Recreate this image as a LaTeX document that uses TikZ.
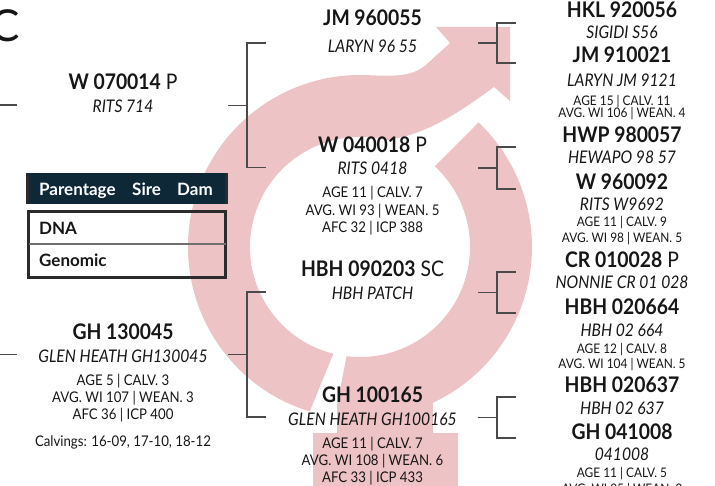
\documentclass[tikz,border=0pt]{standalone}
\usepackage{fontspec}
\setmainfont{Lato}
\newfontfamily\tallfont{Lato}[FakeStretch=0.9]
\usepackage{xcolor}
\usepackage{tikz}
\usetikzlibrary{calc}
\definecolor{gpink}{HTML}{EEC3C5}
\definecolor{gnavy}{HTML}{0E2838}
\definecolor{gink}{HTML}{161616}
\definecolor{gline}{HTML}{4A4A4A}
\definecolor{gframe}{HTML}{2B2B2B}
\definecolor{grule}{HTML}{707070}

\begin{document}
\begin{tikzpicture}[x=1pt, y=-1pt,
  idtxt/.style={font=\tallfont\fontsize{21.5}{23}\selectfont, text=gink, anchor=base, inner sep=0pt},
  nametxt/.style={font=\tallfont\fontsize{17.4}{19}\selectfont\itshape, text=gink, anchor=base, inner sep=0pt},
  stattxt/.style={font=\tallfont\fontsize{14.7}{16}\selectfont, text=gink, anchor=base, inner sep=0pt},
  smallstat/.style={font=\tallfont\fontsize{13.2}{15}\selectfont, text=gink, anchor=base, inner sep=0pt},
  legendtxt/.style={font=\fontsize{17}{19}\selectfont\bfseries, anchor=base west, inner sep=0pt},
  brk/.style={gline, line width=1.1pt}]

  %% page
  \useasboundingbox (0,0) rectangle (715,486);
  \clip (0,0) rectangle (715,486);
  \coordinate (C) at (360,247);

  %% symbol, arrow part (ring left + shaft)
  \fill[gpink] ($(C)+(107:172)$) arc[start angle=107, end angle=272, radius=172]
    .. controls (391,76) and (413,78) .. (428,63)
    -- (450,43) -- (436,27) -- (510,27) -- (510,101) -- (494,87)
    .. controls (465,108) and (430,134) .. ($(C)+(284:110)$)
    arc[start angle=284, end angle=104, radius=110] -- cycle;
  %% symbol, cross part (ring right + stem)
  \fill[gpink] ($(C)+(-46.4:172)$) arc[start angle=-46.4, end angle=64.9, radius=172]
    -- (433,433) -- (458,433) -- (458,490) -- (313,490) -- (313,433) -- (337,433) -- (337,405)
    -- ($(C)+(97:110)$) arc[start angle=97, end angle=-47.2, radius=110] -- cycle;

  %% cut title letter
  \node[font=\fontsize{44}{44}\selectfont, text=gink, anchor=base east, inner sep=0pt] (title) at (20,42) {C};

  %% left column
  \node[idtxt] (w070014) at (123,90) {\textbf{W 070014} P};
  \node[nametxt] (w070014n) at (123,112.5) {RITS 714};
  \node[idtxt] (gh130045) at (123,340) {\textbf{GH 130045}};
  \node[nametxt] (gh130045n) at (123,362.5) {GLEN HEATH GH130045};
  \foreach \nm/\yy/\txt in {gh130045a/385/AGE 5 | CALV. 3, gh130045b/402.5/AVG. WI 107 | WEAN. 3,
                            gh130045c/419.5/AFC 36 | ICP 400, calvings/446.5/{Calvings: 16-09, 17-10, 18-12}}
    \node[stattxt] (\nm) at (123,\yy) {\txt};

  %% centre column
  \node[idtxt] (jm960055) at (372.5,26) {\textbf{JM 960055}};
  \node[nametxt] (jm960055n) at (372.5,52.5) {LARYN 96 55};
  \node[idtxt] (w040018) at (372.5,153) {\textbf{W 040018} P};
  \node[nametxt] (w040018n) at (372.5,175) {RITS 0418};
  \node[idtxt] (hbh090203) at (372.5,277) {\textbf{HBH 090203} SC};
  \node[nametxt] (hbh090203n) at (372.5,300) {HBH PATCH};
  \node[idtxt] (gh100165) at (372.5,402) {\textbf{GH 100165}};
  \node[nametxt] (gh100165n) at (372.5,425.5) {GLEN HEATH GH100165};
  \foreach \nm/\yy/\txt in {w040018a/198/AGE 11 | CALV. 7, w040018b/216/AVG. WI 93 | WEAN. 5,
                            w040018c/232.5/AFC 32 | ICP 388, gh100165a/448/AGE 11 | CALV. 7,
                            gh100165b/465/AVG. WI 108 | WEAN. 6, gh100165c/482/AFC 33 | ICP 433}
    \node[stattxt] (\nm) at (372.5,\yy) {\txt};

  %% right column
  \foreach \nm/\yy/\txt in {hkl920056/18/HKL 920056, jm910021/63/JM 910021, hwp980057/143/HWP 980057,
                            w960092/190/W 960092, hbh020664/315/HBH 020664, hbh020637/392/HBH 020637,
                            gh041008/439/GH 041008}
    \node[idtxt] (\nm) at (622,\yy) {\textbf{\txt}};
  \node[idtxt] (cr010028) at (622,268) {\textbf{CR 010028} P};
  \foreach \nm/\yy/\txt in {hkl920056n/39/SIGIDI S56, jm910021n/87/LARYN JM 9121, hwp980057n/164/HEWAPO 98 57,
                            w960092n/211/RITS W9692, cr010028n/289/NONNIE CR 01 028, hbh020664n/337/HBH 02 664,
                            hbh020637n/414/HBH 02 637, gh041008n/460/041008}
    \node[nametxt] (\nm) at (622,\yy) {\txt};
  \foreach \nm/\yy/\txt in {jm910021a/106/AGE 15 | CALV. 11, jm910021b/118/AVG. WI 106 | WEAN. 4,
                            w960092a/227/AGE 11 | CALV. 9, w960092b/243/AVG. WI 98 | WEAN. 5,
                            hbh020664a/353/AGE 12 | CALV. 8, hbh020664b/368/AVG. WI 104 | WEAN. 5,
                            gh041008a/477/AGE 11 | CALV. 5, gh041008b/493/AVG. WI 95 | WEAN. 3}
    \node[smallstat] (\nm) at (622,\yy) {\txt};

  %% brackets
  \foreach \bn/\bx/\ya/\yb in {pa/247/43/167.5, pb/247/292/417, ra/497/23/63, rb/497/147/189,
                               rc/497/272/313, rd/497/397/438} {
    \coordinate (\bn-top) at (\bx+19,\ya);
    \coordinate (\bn-bot) at (\bx+19,\yb);
    \coordinate (\bn-mid) at (\bx,{(\ya+\yb)/2});
    \coordinate (\bn-in) at (\bx-19,{(\ya+\yb)/2});
    \draw[brk] (\bn-top) -| (\bn-mid) |- (\bn-bot);
    \draw[brk] (\bn-in) -- (\bn-mid);
  }
  %% lines coming in from the left
  \coordinate (offa) at (0,105);
  \coordinate (offa-end) at (17,105);
  \coordinate (offb) at (0,354.5);
  \coordinate (offb-end) at (17,354.5);
  \draw[brk] (offa) -- (offa-end);
  \draw[brk] (offb) -- (offb-end);

  %% legend
  \fill[gnavy] (26,173) rectangle (228,204);
  \draw[gframe, line width=3pt] (27.5,173) -- (27.5,204) (226.5,173) -- (226.5,204);
  \node[legendtxt, text=white] (parentage) at (39,196) {Parentage};
  \node[legendtxt, text=white] (sire) at (132,196) {Sire};
  \node[legendtxt, text=white] (dam) at (177,196) {Dam};
  \draw[gframe, line width=3pt] (28.5,211.5) rectangle (225.5,278);
  \draw[grule, line width=1.3pt] (28.5,244) -- (225.5,244);
  \node[legendtxt, text=gink] (dna) at (39,235) {DNA};
  \node[legendtxt, text=gink] (genomic) at (39,267) {Genomic};

\end{tikzpicture}
\end{document}
